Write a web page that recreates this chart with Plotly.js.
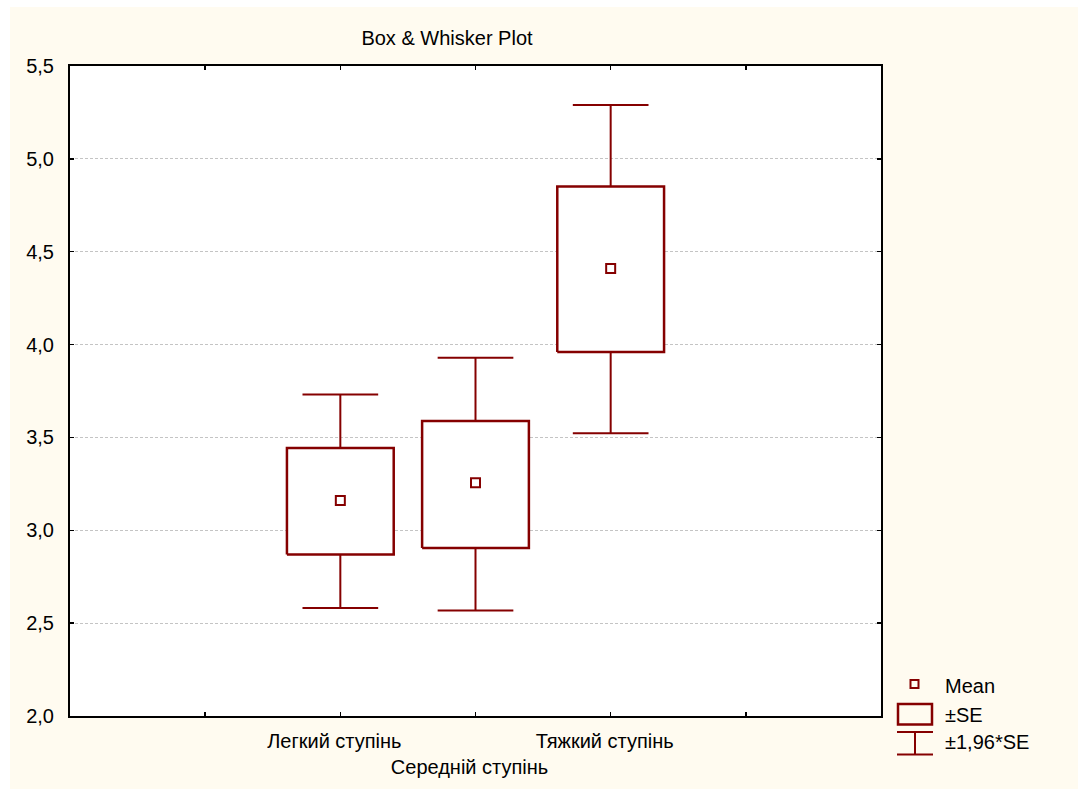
<!DOCTYPE html>
<html>
<head>
<meta charset="utf-8">
<script src="https://cdn.plot.ly/plotly-3.0.1.min.js"></script>
<style>html,body{margin:0;padding:0;background:#fff;}#chart{width:1078px;height:789px;}</style>
</head>
<body>
<div id="chart"></div>
<script>
// ---- data ----
const groups = ['Легкий ступінь', 'Середній ступінь', 'Тяжкий ступінь'];
const groupPos = [2, 3, 4];
const means = [3.161, 3.256, 4.409];
const seLow = [2.869, 2.905, 3.960];
const seHigh = [3.443, 3.588, 4.851];
const ciLow = [2.582, 2.568, 3.522];
const ciHigh = [3.731, 3.929, 5.290];
const tickVals = [1, 2, 3, 4, 5];
const tickText = ['', 'Легкий ступінь', '<br>Середній ступінь', 'Тяжкий ступінь', ''];
const legendLabels = ['Mean', '±SE', '±1,96*SE'];

const RED = '#850000';
const FONT = 'Liberation Sans, Arial, sans-serif';
const FS = 20;
const W = 1078, H = 789;
const M = {l: 70, r: 197, t: 66, b: 73};
const PW = W - M.l - M.r, PH = H - M.t - M.b;
const PX = p => (p - M.l) / PW;
const PY = p => (H - M.b - p) / PH;

const BOX_HALF = 0.395;   // half box width, x units
const CAP_HALF = 0.28;    // half whisker cap width, x units

// whisker segments built from the data arrays
const wx = [], wy = [];
groupPos.forEach((c, i) => {
  wx.push(c, c, null, c - CAP_HALF, c + CAP_HALF, null);
  wy.push(seHigh[i], ciHigh[i], null, ciHigh[i], ciHigh[i], null);
  wx.push(c, c, null, c - CAP_HALF, c + CAP_HALF, null);
  wy.push(seLow[i], ciLow[i], null, ciLow[i], ciLow[i], null);
});
// box traces (one per group) built from the data arrays
const boxTraces = groupPos.map((c, i) => ({
  type: 'scatter', mode: 'lines',
  x: [c - BOX_HALF, c + BOX_HALF, c + BOX_HALF, c - BOX_HALF, c - BOX_HALF],
  y: [seLow[i], seLow[i], seHigh[i], seHigh[i], seLow[i]],
  fill: 'toself', fillcolor: '#ffffff',
  line: {color: RED, width: 2.5},
  hoverinfo: 'skip', showlegend: false, name: groups[i]
}));

const traces = [
  {type: 'scatter', mode: 'lines', x: wx, y: wy, line: {color: RED, width: 2},
   hoverinfo: 'skip', showlegend: false, connectgaps: false}
].concat(boxTraces).concat([
  {
    type: 'scatter', mode: 'markers',
    x: groupPos, y: means,
    marker: {symbol: 'square-open', size: 9, color: RED, line: {width: 2, color: RED}},
    hoverinfo: 'skip', showlegend: false, cliponaxis: false
  }
]);

const shapes = [
  // white outer margins
  {type: 'rect', xref: 'paper', yref: 'paper', x0: PX(0), x1: PX(10), y0: PY(H), y1: PY(0), fillcolor: '#ffffff', line: {width: 0}, layer: 'above'},
  {type: 'rect', xref: 'paper', yref: 'paper', x0: PX(0), x1: PX(W), y0: PY(7), y1: PY(0), fillcolor: '#ffffff', line: {width: 0}, layer: 'above'},
  // legend: mean marker
  {type: 'rect', xref: 'paper', yref: 'paper', x0: PX(910.5), x1: PX(918.5), y0: PY(688), y1: PY(680), fillcolor: 'rgba(0,0,0,0)', line: {color: RED, width: 2}},
  // legend: SE box
  {type: 'rect', xref: 'paper', yref: 'paper', x0: PX(898), x1: PX(932), y0: PY(724.5), y1: PY(704), fillcolor: 'rgba(0,0,0,0)', line: {color: RED, width: 2.5}},
  // legend: whisker
  {type: 'line', xref: 'paper', yref: 'paper', x0: PX(897), x1: PX(933), y0: PY(732), y1: PY(732), line: {color: RED, width: 2}},
  {type: 'line', xref: 'paper', yref: 'paper', x0: PX(897), x1: PX(933), y0: PY(754.5), y1: PY(754.5), line: {color: RED, width: 2}},
  {type: 'line', xref: 'paper', yref: 'paper', x0: PX(915), x1: PX(915), y0: PY(732), y1: PY(754.5), line: {color: RED, width: 2}}
];

const legendY = [686, 715, 742.5];
const annotations = legendLabels.map((t, i) => ({
  xref: 'paper', yref: 'paper', x: PX(943), y: PY(legendY[i]),
  xanchor: 'left', yanchor: 'middle', showarrow: false, text: t,
  font: {family: FONT, size: FS, color: '#000'}
}));

const axisCommon = {
  showline: true, linecolor: '#000', linewidth: 2, mirror: 'ticks',
  ticks: 'inside', ticklen: 4, tickwidth: 1.5, tickcolor: '#000',
  zeroline: false, fixedrange: true,
  tickfont: {family: FONT, size: FS, color: '#000'}
};

const layout = {
  width: W, height: H,
  margin: M,
  paper_bgcolor: '#fffbf0',
  plot_bgcolor: '#ffffff',
  separators: ', ',
  showlegend: false,
  title: {
    text: 'Box & Whisker Plot',
    x: PX(447), xref: 'paper', xanchor: 'center',
    y: 1 - 38 / H, yref: 'container', yanchor: 'middle',
    font: {family: FONT, size: FS, color: '#000'}
  },
  xaxis: Object.assign({}, axisCommon, {
    range: [0, 6],
    tickmode: 'array', tickvals: tickVals, ticktext: tickText,
    tickangle: 0,
    showgrid: false,
    ticklabelstandoff: 6,
    ticklabelshift: -6
  }),
  yaxis: Object.assign({}, axisCommon, {
    range: [2, 5.5],
    tickmode: 'linear', tick0: 2, dtick: 0.5, tickformat: '.1f',
    showgrid: true, gridcolor: '#c4c4c4', gridwidth: 1, griddash: '3px,2px',
    ticklabelstandoff: 10
  }),
  shapes: shapes,
  annotations: annotations
};

Plotly.newPlot('chart', traces, layout, {displayModeBar: false, staticPlot: true});
</script>
</body>
</html>
